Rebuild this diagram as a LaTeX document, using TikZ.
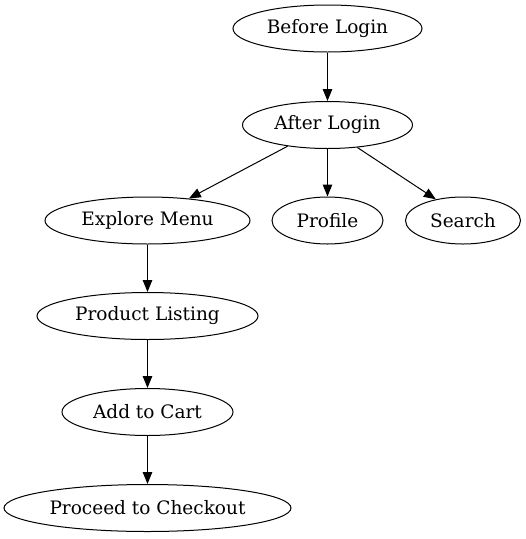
\documentclass[tikz,border=0pt]{standalone}
\usepackage{fontspec}
\setmainfont{DejaVu Serif}
\usetikzlibrary{shapes.geometric,arrows.meta}
\begin{document}
\begin{tikzpicture}[x=1pt,y=-1pt,
  nd/.style={draw,ellipse,line width=1pt,minimum height=47pt,inner sep=0pt,font=\fontsize{18.5}{20}\selectfont},
  arr/.style={draw,line width=1pt,-{Triangle[length=12pt,width=9.5pt]}}]
\useasboundingbox (0,0) rectangle (526,539);
\node[nd,minimum width=189pt] (before) at (327.5,28.5) {\raisebox{-2pt}{Before Login}};
\node[nd,minimum width=170pt] (after) at (327.5,125) {\raisebox{-2pt}{After Login}};
\node[nd,minimum width=205pt] (explore) at (147.5,220.5) {\raisebox{-2pt}{Explore Menu}};
\node[nd,minimum width=111pt] (profile) at (327.5,220.5) {\raisebox{-2pt}{Profile}};
\node[nd,minimum width=115pt] (search) at (463,220.5) {\raisebox{-2pt}{Search}};
\node[nd,minimum width=221pt] (listing) at (147.5,316) {\raisebox{-2pt}{Product Listing}};
\node[nd,minimum width=171pt] (cart) at (147.5,412) {\raisebox{-2pt}{Add to Cart}};
\node[nd,minimum width=287pt] (checkout) at (147.5,508) {\raisebox{-2pt}{Proceed to Checkout}};
\draw[arr] (before) -- (after);
\draw[arr] (after.208.3) -- (explore.28.4);
\draw[arr] (after) -- (profile);
\draw[arr] (after.323.4) -- (search.142.5);
\draw[arr] (explore) -- (listing);
\draw[arr] (listing) -- (cart);
\draw[arr] (cart) -- (checkout);
\end{tikzpicture}
\end{document}
